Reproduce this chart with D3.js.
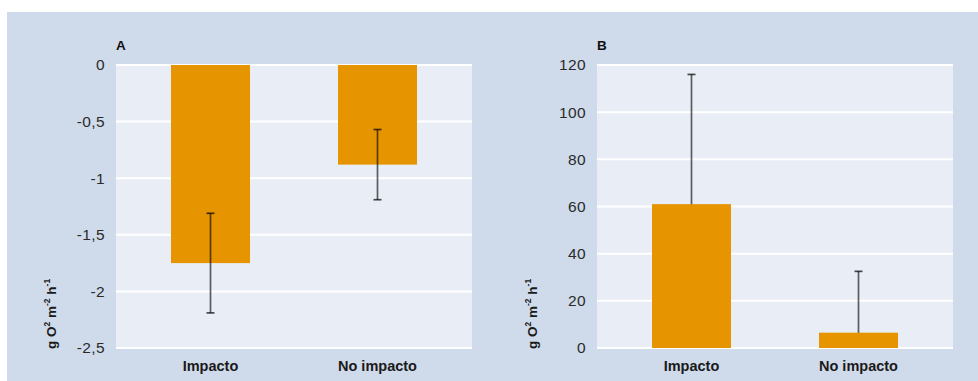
<!DOCTYPE html>
<html>
<head>
<meta charset="utf-8">
<script src="https://cdn.jsdelivr.net/npm/d3@7"></script>
<style>
  html, body { margin: 0; padding: 0; background: #ffffff; }
  svg { display: block; }
  text { font-family: "Liberation Sans", Arial, sans-serif; }
</style>
</head>
<body>
<svg id="chart" width="978" height="381"></svg>
<script>
// Oxygen flux per treatment, two panels
const categories = ["Impacto", "No impacto"];

// Panel A: negative flux
const valuesA = [-1.75, -0.88];
const errorsA = [0.44, 0.31];
const ticksA = [0, -0.5, -1, -1.5, -2, -2.5];

// Panel B: positive flux
const valuesB = [61, 6.5];
const errorsB = [55, 26];
const ticksB = [0, 20, 40, 60, 80, 100, 120];

const svg = d3.select("#chart");
const W = 978, H = 381;

svg.append("rect")
  .attr("x", 7).attr("y", 12).attr("width", W - 7).attr("height", H - 12)
  .attr("fill", "#cfdbea");

const fmt = v => String(v).replace(".", ",");

function panel(opts) {
  const { left, right, top, bottom, domain, ticks, values, errors, label, whiskersOnTop } = opts;
  const g = svg.append("g");

  const y = d3.scaleLinear().domain(domain).range([bottom, top]).clamp(true);
  const x = d3.scaleBand().domain(categories)
    .range([left + 11, right - 11])
    .paddingInner(0.527).paddingOuter(0.2635);

  // plot background
  g.append("rect")
    .attr("x", left).attr("y", top)
    .attr("width", right - left).attr("height", bottom - top)
    .attr("fill", "#e9eef6");

  // gridlines
  g.append("g").selectAll("line").data(ticks).join("line")
    .attr("x1", left).attr("x2", right)
    .attr("y1", d => y(d)).attr("y2", d => y(d))
    .attr("stroke", "#ffffff").attr("stroke-width", 2);

  // y axis labels
  const yAxis = d3.axisLeft(y).tickValues(ticks).tickFormat(fmt).tickSize(0).tickPadding(11);
  const ya = g.append("g").attr("transform", `translate(${left},0)`).call(yAxis);
  ya.select(".domain").remove();
  ya.selectAll("text")
    .attr("font-family", "'Liberation Sans', Arial, sans-serif")
    .attr("font-size", 15.5)
    .attr("letter-spacing", 0.4)
    .attr("fill", "#2a2a2a");

  const data = categories.map((c, i) => ({ c, v: values[i], e: errors[i] }));

  function drawWhiskers(sel) {
    const eb = sel.append("g").selectAll("g").data(data).join("g");
    const cx = d => x(d.c) + x.bandwidth() / 2;
    eb.append("line")
      .attr("x1", cx).attr("x2", cx)
      .attr("y1", d => y(d.v + d.e)).attr("y2", d => y(d.v - d.e))
      .attr("stroke", "rgba(0,0,0,0.62)").attr("stroke-width", 1.7);
    eb.selectAll("line.cap").data(d => [d.v + d.e, d.v - d.e].filter(v => v >= domain[0] && v <= domain[1]).map(v => ({ d, v })))
      .join("line").attr("class", "cap")
      .attr("x1", o => cx(o.d) - 4).attr("x2", o => cx(o.d) + 4)
      .attr("y1", o => y(o.v)).attr("y2", o => y(o.v))
      .attr("stroke", "rgba(0,0,0,0.7)").attr("stroke-width", 1.7);
  }

  if (!whiskersOnTop) drawWhiskers(g);

  // bars from zero
  g.append("g").selectAll("rect").data(data).join("rect")
    .attr("x", d => x(d.c))
    .attr("width", x.bandwidth())
    .attr("y", d => Math.min(y(0), y(d.v)))
    .attr("height", d => Math.abs(y(d.v) - y(0)))
    .attr("fill", "#e69500");

  if (whiskersOnTop) drawWhiskers(g);

  // category labels
  g.append("g").selectAll("text").data(categories).join("text")
    .attr("x", d => x(d) + x.bandwidth() / 2)
    .attr("y", bottom + 23)
    .attr("text-anchor", "middle")
    .attr("font-size", 14.5)
    .attr("font-weight", "bold")
    .attr("fill", "#1a1a1a")
    .text(d => d);

  // panel letter
  g.append("text")
    .attr("x", left).attr("y", top - 15)
    .attr("font-size", 13.5)
    .attr("font-weight", "bold")
    .attr("fill", "#111")
    .text(label);

  // y axis title
  const t = g.append("text")
    .attr("transform", `translate(${left - 60},${bottom + 1}) rotate(-90)`)
    .attr("font-size", 13.5)
    .attr("font-weight", "bold")
    .attr("fill", "#1a1a1a");
  t.append("tspan").text("g O");
  t.append("tspan").attr("font-size", 8.5).attr("dy", -6).text("2");
  t.append("tspan").attr("dy", 6).text(" m");
  t.append("tspan").attr("font-size", 8.5).attr("dy", -6).text("-2");
  t.append("tspan").attr("dy", 6).text(" h");
  t.append("tspan").attr("font-size", 8.5).attr("dy", -6).text("-1");
}

panel({ left: 116, right: 472, top: 65, bottom: 348, domain: [-2.5, 0], ticks: ticksA,
        values: valuesA, errors: errorsA, label: "A", whiskersOnTop: true });
panel({ left: 597, right: 953, top: 65, bottom: 348, domain: [0, 120], ticks: ticksB,
        values: valuesB, errors: errorsB, label: "B", whiskersOnTop: false });
</script>
</body>
</html>
